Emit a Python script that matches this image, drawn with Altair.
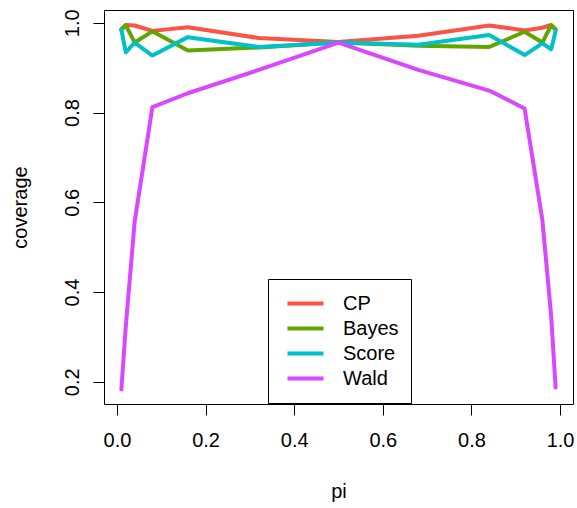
import altair as alt
import pandas as pd

pi_vals = [0.01, 0.02, 0.04, 0.08, 0.16, 0.32, 0.5, 0.68, 0.84, 0.92, 0.96, 0.98, 0.99]
cp = [0.985, 0.995, 0.994, 0.982, 0.990, 0.966, 0.957, 0.971, 0.994, 0.983, 0.989, 0.995, 0.985]
bayes = [0.985, 0.995, 0.956, 0.981, 0.938, 0.945, 0.956, 0.949, 0.946, 0.980, 0.956, 0.995, 0.985]
score = [0.984, 0.934, 0.956, 0.927, 0.968, 0.946, 0.956, 0.951, 0.973, 0.928, 0.954, 0.941, 0.982]
wald = [0.183, 0.324, 0.557, 0.812, 0.843, 0.895, 0.956, 0.895, 0.849, 0.809, 0.561, 0.346, 0.187]

methods = ["CP", "Bayes", "Score", "Wald"]
colors = ["#F95445", "#61A500", "#00C0C8", "#D848FF"]
series = {"CP": cp, "Bayes": bayes, "Score": score, "Wald": wald}

rows = []
for m in methods:
    for p, v in zip(pi_vals, series[m]):
        rows.append({"pi": p, "coverage": v, "method": m})
df = pd.DataFrame(rows)

FONT = "Liberation Sans"

x_enc = alt.X(
    "pi:Q",
    scale=alt.Scale(domain=[-0.0292, 1.0292], nice=False, zero=False),
    axis=alt.Axis(
        values=[0, 0.2, 0.4, 0.6, 0.8, 1.0], format=".1f", title="pi",
        grid=False, domain=False, tickSize=11, tickColor="black",
        labelPadding=15, labelFontSize=20, labelColor="black", labelFont=FONT,
        titleFontSize=20, titleFont=FONT, titleFontWeight="normal", titleColor="black",
        titleBaseline="alphabetic", titleY=93,
    ),
)
y_enc = alt.Y(
    "coverage:Q",
    scale=alt.Scale(domain=[0.1505, 1.0285], nice=False, zero=False),
    axis=alt.Axis(
        values=[0.2, 0.4, 0.6, 0.8, 1.0], format=".1f", title="coverage",
        grid=False, domain=False, tickSize=11, tickColor="black",
        labelAngle=270, labelAlign="center", labelBaseline="alphabetic", labelPadding=15,
        labelFontSize=20, labelColor="black", labelFont=FONT,
        titleFontSize=20, titleFont=FONT, titleFontWeight="normal", titleColor="black",
        titleAngle=270, titleBaseline="alphabetic", titleX=-78,
    ),
)
color_enc = alt.Color(
    "method:N",
    scale=alt.Scale(domain=methods, range=colors),
    legend=alt.Legend(title=None),
)

layers = []
for m in methods:
    layers.append(
        alt.Chart(df)
        .transform_filter(alt.datum.method == m)
        .mark_line(strokeWidth=4, strokeCap="round", strokeJoin="round")
        .encode(x=x_enc, y=y_enc, color=color_enc, order="pi:Q")
    )

chart = (
    alt.layer(*layers)
    .properties(
        width=469, height=394,
        autosize=alt.AutoSizeParams(type="none"),
        padding={"left": 104, "top": 10, "right": 4, "bottom": 104},
    )
    .configure_view(stroke="black", strokeWidth=1)
    .configure_legend(
        orient="none", legendX=164, legendY=269,
        fillColor="white", strokeColor="black", padding=12, cornerRadius=0,
        symbolType="stroke", symbolSize=1300, symbolStrokeWidth=4, symbolOffset=5,
        labelFontSize=20, labelFont=FONT, labelColor="black", labelOffset=17,
        rowPadding=0, clipHeight=25,
    )
)

chart.save("out.html", embed_options={"renderer": "svg", "actions": False})
